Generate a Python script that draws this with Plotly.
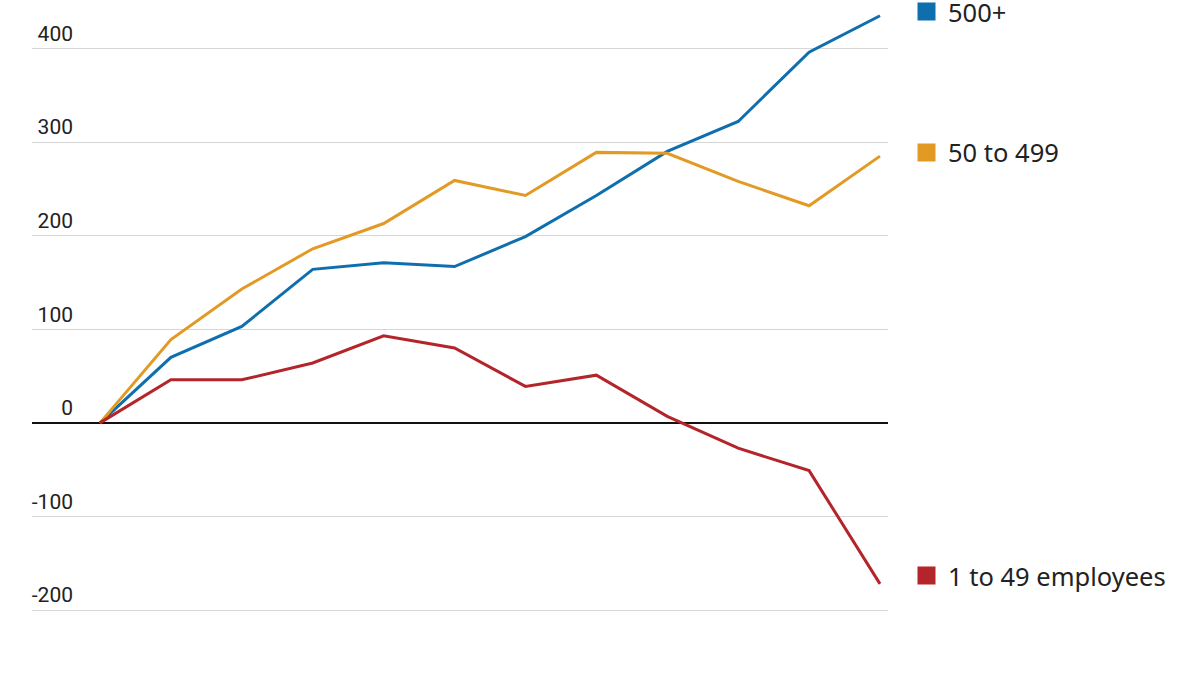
import plotly.graph_objects as go

periods = list(range(12))
series_names = ["500+", "50 to 499", "1 to 49 employees"]
large = [0, 70, 103, 164, 171, 167, 199, 243, 290, 322, 396, 435]
medium = [0, 89, 143, 186, 213, 259, 243, 289, 288, 258, 232, 285]
small = [0, 46, 46, 64, 93, 80, 39, 51, 7, -27, -51, -172]
y_ticks = [-200, -100, 0, 100, 200, 300, 400]
y_tick_labels = ["-200", "-100", "0", "100", "200", "300", "400"]

colors = ["#0f6fae", "#e39a25", "#b3252b"]
values = [large, medium, small]
label_shift = [4, 4, 8]

fig = go.Figure()
for name, vals, col in zip(series_names, values, colors):
    fig.add_trace(go.Scatter(x=periods, y=vals, mode="lines", name=name,
                             line=dict(color=col, width=3), cliponaxis=False))

annotations = []
for name, vals, col, sh in zip(series_names, values, colors, label_shift):
    annotations.append(dict(xref="paper", yref="y", x=1.045, y=vals[-1], yshift=sh,
                            text=" ", width=17, height=17, bgcolor=col,
                            showarrow=False, xanchor="center", yanchor="middle",
                            borderpad=0, font=dict(size=6)))
    annotations.append(dict(xref="paper", yref="y", x=1.068, y=vals[-1], yshift=sh,
                            text=name, showarrow=False, xanchor="left", yanchor="middle",
                            font=dict(family="Noto Sans", size=25.5, color="#222222")))

fig.update_layout(
    template="none",
    width=1200, height=675,
    margin=dict(l=32, r=312, t=0, b=27, pad=0),
    paper_bgcolor="white", plot_bgcolor="white",
    showlegend=False,
    annotations=annotations,
    xaxis=dict(range=[-0.959, 11.113], showgrid=False, zeroline=False, automargin=False,
               showticklabels=False, ticks="", showline=False, fixedrange=True),
    yaxis=dict(range=[-240.5, 451.8], tickvals=y_ticks, ticktext=y_tick_labels,
               showgrid=True, gridcolor="#d6d6d6", gridwidth=1.3, automargin=False,
               zeroline=True, zerolinecolor="#111111", zerolinewidth=1.6,
               ticks="", showline=False, ticklabelposition="outside",
               ticklabelstandoff=-42, ticklabelshift=-15,
               tickfont=dict(family="Roboto", size=21, color="#222222"),
               fixedrange=True),
)

fig.write_html("out.html", config={"displayModeBar": False},
               post_script="document.body.style.margin='0px';")
